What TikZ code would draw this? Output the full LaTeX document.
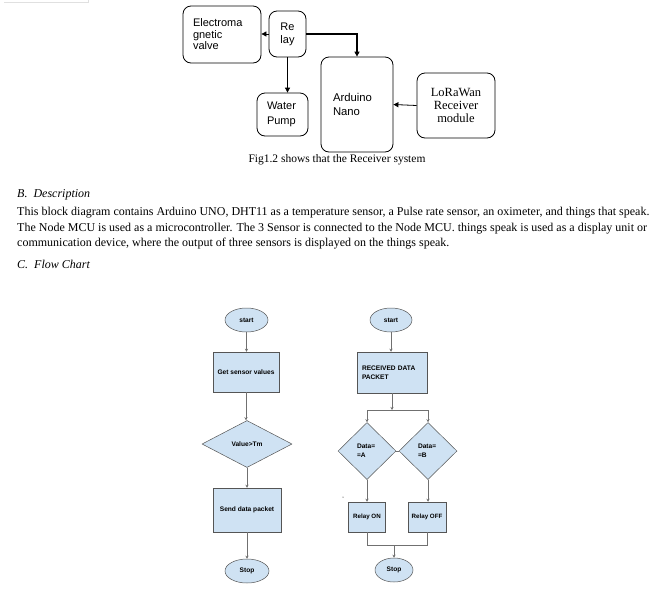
\documentclass[tikz,border=0pt]{standalone}
\usepackage{fontspec}
\setmainfont{Liberation Serif}
\newfontfamily\arial{Liberation Sans}
\usetikzlibrary{shapes.geometric,arrows.meta}
\definecolor{fcfill}{HTML}{CFE2F3}
\definecolor{fcline}{HTML}{555555}
\definecolor{fcarrow}{HTML}{707070}
\begin{document}
\begin{tikzpicture}[x=1pt,y=-1pt,
  blk/.style={draw=black, rounded corners=8pt, line width=0.8pt, inner sep=0pt},
  sansbig/.style={font=\arial\fontsize{11}{11.5}\selectfont},
  arr/.style={-{Triangle[length=5pt,width=5pt]}, line width=0.8pt},
  thickarr/.style={-{Triangle[length=5pt,width=5pt]}, line width=1.8pt},
  fc/.style={draw=fcline, fill=fcfill, line width=0.5pt, inner sep=0pt,
    font=\arial\bfseries\fontsize{6.6}{9}\selectfont},
  fcrect/.style={fc, rectangle},
  fcell/.style={fc, ellipse},
  fcdia/.style={fc, diamond},
  fcarr/.style={draw=fcarrow, line width=0.5pt, -{Stealth[length=3pt,width=3pt]}},
  fcln/.style={draw=fcarrow, line width=0.5pt},
  para/.style={anchor=base west, inner sep=0pt, font=\fontsize{12}{14}\selectfont}
]
\useasboundingbox (0,0) rectangle (658,595);
\draw[black!12] (4,2) -- (88,2) -- (88,0);

% ---- Receiver block diagram ----
\node[blk, minimum width=78pt, minimum height=57pt, text width=58pt, align=left, sansbig] (valve) at (222,34.5) {Electroma\\gnetic\\valve};
\node[blk, minimum width=37pt, minimum height=46pt, align=center, font=\arial\fontsize{11}{13}\selectfont] (relay) at (287.5,34) {Re\\lay};
\node[blk, minimum width=72pt, minimum height=95pt, text width=48pt, align=left, font=\arial\fontsize{11.3}{14}\selectfont] (nano) at (357,104.5) {Arduino\\Nano};
\node[blk, minimum width=51pt, minimum height=43pt, text width=31pt, align=left, font=\arial\fontsize{11}{14.5}\selectfont] (pump) at (282.5,114.5) {Water\\Pump};
\node[blk, minimum width=78pt, minimum height=65pt, align=center, font=\fontsize{12.5}{13}\selectfont] (lora) at (456,105.5) {LoRaWan\\Receiver\\module};

\draw[arr] (relay.west) -- (relay.west -| valve.east);
\draw[thickarr] (relay.east) -| (nano.north);
\draw[arr] (relay.south) -- (relay.south |- pump.north);
\draw[arr] (lora.west) -- (nano.east);

\node[inner sep=0pt, font=\fontsize{11.5}{13}\selectfont] (cap) at (337,160) {Fig1.2 shows that the Receiver system};

% ---- Text ----
\node[para] (hB) at (17,197) {\textit{B.\hspace{6pt}Description}};
\node[para] (p1) at (17,215) {This block diagram contains Arduino UNO, DHT11 as a temperature sensor, a Pulse rate sensor, an oximeter, and things that speak.};
\node[para] (p2) at (17,231) {The Node MCU is used as a microcontroller. The 3 Sensor is connected to the Node MCU. things speak is used as a display unit or};
\node[para] (p3) at (17,246) {communication device, where the output of three sensors is displayed on the things speak.};
\node[para] (hC) at (17,268) {\textit{C.\hspace{6pt}Flow Chart}};

% ---- Flow chart 1 ----
\node[fcell, minimum width=43pt, minimum height=24pt] (s1) at (246.5,320) {start};
\node[fcrect, minimum width=66pt, minimum height=40pt] (r1) at (246,372) {Get sensor values};
\node[fcdia, minimum width=90pt, minimum height=47pt] (d1) at (247,444) {Value>Tm};
\node[fcrect, minimum width=68pt, minimum height=44pt] (r2) at (247,510) {Send data packet};
\node[fcell, minimum width=44pt, minimum height=24pt] (e1) at (247,571) {Stop};
\draw[fcarr] (s1.south) -- (s1.south |- r1.north);
\draw[fcarr] (r1.south) -- (r1.south |- d1.north);
\draw[fcarr] (d1.south) -- (d1.south |- r2.north);
\draw[fcarr] (r2.south) -- (r2.south |- e1.north);

% ---- Flow chart 2 ----
\node[fcell, minimum width=42pt, minimum height=24pt] (s2) at (391,320) {start};
\node[fcrect, minimum width=70pt, minimum height=41pt, text width=60pt, align=left] (r3) at (392,372.5) {RECEIVED DATA\\PACKET};
\coordinate (j1) at (392,410);
\coordinate (jL) at (367,410);
\coordinate (jR) at (428,410);
\node[fcdia, minimum width=58pt, minimum height=57pt, text width=20pt, align=left] (dA) at (367,451) {Data=\\=A};
\node[fcdia, minimum width=58pt, minimum height=57pt, text width=20pt, align=left] (dB) at (428,451) {Data=\\=B};
\node[fcrect, minimum width=37pt, minimum height=30pt, font=\arial\bfseries\fontsize{6.2}{8}\selectfont] (rA) at (367,517) {Relay ON};
\node[fcrect, minimum width=38pt, minimum height=30pt, font=\arial\bfseries\fontsize{6.2}{8}\selectfont] (rB) at (427,517) {Relay OFF};
\coordinate (kL) at (367,545);
\coordinate (kR) at (427,545);
\coordinate (kM) at (394,545);
\node[fcell, minimum width=38pt, minimum height=24pt] (e2) at (394,570) {Stop};
\draw[fcarr] (s2.south) -- (s2.south |- r3.north);
\draw[fcarr] (r3.south) -- (j1);
\draw[fcln] (jL) -- (jR);
\draw[fcarr] (jL) -- (dA.north);
\draw[fcarr] (jR) -- (dB.north);
\draw[fcln] (dA.east) -- (dB.west);
\draw[fcarr] (dA.south) -- (rA.north -| dA.south);
\draw[fcarr] (dB.south) -- (rB.north -| dB.south);
\draw[fcln] (rA.south) -- (kL) -- (kR) -- (rB.south);
\draw[fcarr] (kM) -- (e2.north);
\fill (343,497) circle (0.5pt);
\end{tikzpicture}
\end{document}
